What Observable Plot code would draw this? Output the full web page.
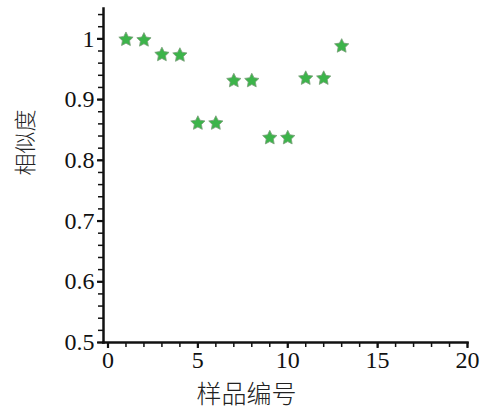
<!DOCTYPE html>
<html>
<head>
<meta charset="utf-8">
<script src="https://cdn.jsdelivr.net/npm/d3@7"></script>
<script src="https://cdn.jsdelivr.net/npm/@observablehq/plot@0.6"></script>
<style>
  body { margin: 0; background: #fff; }
  #chart svg { display: block; }
</style>
</head>
<body>
<div id="chart"></div>
<script>
const samples = [1, 2, 3, 4, 5, 6, 7, 8, 9, 10, 11, 12, 13];
const similarity = [0.999, 0.998, 0.974, 0.973, 0.861, 0.861, 0.931, 0.931, 0.837, 0.837, 0.935, 0.935, 0.988];
const xMajorTicks = [0, 5, 10, 15, 20];
const xMinorTicks = d3.range(0, 21, 1);
const yMajorTicks = [0.5, 0.6, 0.7, 0.8, 0.9, 1];
const yMinorTicks = d3.range(0.5, 1.0501, 0.02);
const xLabel = "样品编号";
const yLabel = "相似度";

const data = samples.map((s, i) => ({sample: s, value: similarity[i]}));
const serif = "'Liberation Serif', serif";
const cjk = "'Noto Sans CJK SC', sans-serif";

// a slightly plump five-pointed star, like the reference markers
const plumpStar = {
  draw(context, size) {
    const R = Math.sqrt(size / Math.PI), r = R * 0.5;
    for (let i = 0; i < 10; ++i) {
      const a = -Math.PI / 2 + i * Math.PI / 5, rr = i % 2 ? r : R;
      const px = rr * Math.cos(a), py = rr * Math.sin(a);
      i ? context.lineTo(px, py) : context.moveTo(px, py);
    }
    context.closePath();
  }
};

const chart = Plot.plot({
  width: 485,
  height: 408,
  marginLeft: 103,
  marginRight: 18,
  marginTop: 8,
  marginBottom: 66,
  style: {fontFamily: serif, fontSize: "24px", color: "#111", background: "#fff"},
  x: {domain: [-0.25, 20]},
  y: {domain: [0.5, 1.05]},
  marks: [
    Plot.axisX(xMinorTicks, {tickSize: 5, strokeWidth: 1.5, text: null, label: null}),
    Plot.axisX(xMajorTicks, {tickSize: 6, strokeWidth: 2.2, tickPadding: 2, fontSize: 24, fontFamily: serif, label: null, tickFormat: d => String(d)}),
    Plot.axisY(yMinorTicks, {tickSize: 5, strokeWidth: 1.5, text: null, label: null}),
    Plot.axisY(yMajorTicks, {tickSize: 6, strokeWidth: 2.2, tickPadding: 3, fontSize: 24, fontFamily: serif, label: null, tickFormat: d => d === 1 ? "1" : d3.format(".1f")(d)}),
    Plot.frame({anchor: "left", stroke: "#111", strokeWidth: 2.5}),
    Plot.frame({anchor: "bottom", stroke: "#111", strokeWidth: 2.5}),
    Plot.dot(data, {x: "sample", y: "value", symbol: plumpStar, r: 7.5, fill: "#3cb44a", stroke: "#7a9e7a", strokeWidth: 0.8}),
    Plot.text([xLabel], {frameAnchor: "bottom", dx: -39, dy: 60, fontSize: 25, fontFamily: cjk, fontWeight: 300, fill: "#222"}),
    Plot.text([yLabel], {frameAnchor: "left", dx: -78, rotate: -90, fontSize: 22, fontFamily: cjk, fontWeight: 300, fill: "#222"})
  ]
});
document.getElementById("chart").appendChild(chart);
</script>
</body>
</html>
